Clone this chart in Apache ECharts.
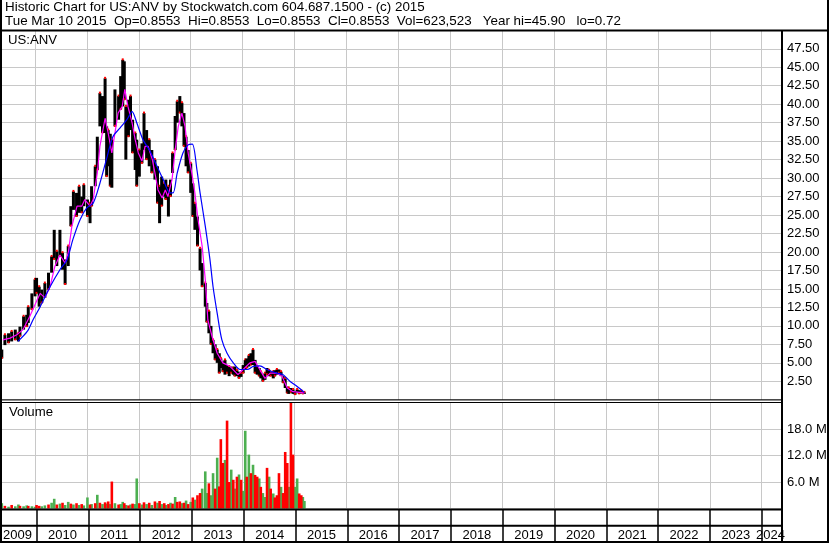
<!DOCTYPE html>
<html>
<head>
<meta charset="utf-8">
<script src="https://cdn.jsdelivr.net/npm/echarts@6/dist/echarts.min.js"></script>
<style>
  html, body { margin: 0; padding: 0; background: #fff; }
  #main { width: 830px; height: 543px; }
</style>
</head>
<body>
<div id="main"></div>
<script>
// x values are decimal years
const XMIN = 2009.364
const XMAX = 2024.391

// daily range bars (sampled), low / high in $
const barDates = [
  2009.36, 2009.42, 2009.49, 2009.55, 2009.62, 2009.68, 2009.71, 2009.78, 2009.84, 2009.87,
  2009.94, 2010.00, 2010.03, 2010.08, 2010.13, 2010.19, 2010.26, 2010.32, 2010.37, 2010.42,
  2010.48, 2010.53, 2010.58, 2010.64, 2010.69, 2010.74, 2010.80, 2010.85, 2010.90, 2010.94,
  2011.01, 2011.06, 2011.09, 2011.16, 2011.20, 2011.25, 2011.30, 2011.35, 2011.38, 2011.41,
  2011.45, 2011.48, 2011.54, 2011.61, 2011.65, 2011.69, 2011.72, 2011.75, 2011.80, 2011.84,
  2011.88, 2011.93, 2011.96, 2012.01, 2012.06, 2012.10, 2012.15, 2012.20, 2012.25, 2012.31,
  2012.36, 2012.40, 2012.44, 2012.49, 2012.52, 2012.57, 2012.61, 2012.65, 2012.70, 2012.74,
  2012.79, 2012.83, 2012.87, 2012.91, 2012.95, 2013.00, 2013.04, 2013.08, 2013.13, 2013.18,
  2013.22, 2013.28, 2013.31, 2013.35, 2013.39, 2013.43, 2013.47, 2013.51, 2013.55, 2013.58,
  2013.62, 2013.66, 2013.70, 2013.74, 2013.78, 2013.82, 2013.85, 2013.89, 2013.93, 2013.97,
  2014.01, 2014.05, 2014.08, 2014.12, 2014.16, 2014.20, 2014.24, 2014.28, 2014.32, 2014.35,
  2014.39, 2014.43, 2014.47, 2014.51, 2014.54, 2014.59, 2014.62, 2014.66, 2014.70, 2014.74,
  2014.78, 2014.82, 2014.86, 2014.89, 2014.93, 2014.97, 2015.01, 2015.05, 2015.09, 2015.13,
  2015.16, 2015.19
]
const barLow = [
  5.6, 7.4, 7.7, 7.9, 8.1, 7.9, 8.6, 9.5, 9.9, 10.4,
  12.2, 14.0, 14.4, 12.6, 13.1, 13.8, 14.9, 17.2, 19.0, 18.1,
  19.4, 17.6, 15.6, 18.1, 23.5, 25.7, 24.8, 25.3, 25.3, 26.2,
  24.8, 23.9, 26.2, 28.9, 31.1, 37.0, 36.1, 36.1, 30.2, 31.6,
  28.9, 28.7, 37.0, 37.9, 39.3, 39.7, 40.6, 32.5, 35.6, 36.5,
  33.4, 31.1, 28.9, 30.2, 32.0, 33.8, 32.5, 31.6, 30.7, 29.8,
  26.6, 23.9, 26.2, 27.5, 27.1, 24.8, 27.5, 30.7, 33.8, 37.5,
  38.8, 37.0, 34.3, 31.6, 30.7, 28.0, 24.8, 23.0, 20.8, 17.5,
  15.3, 12.6, 10.5, 9.0, 7.5, 6.3, 5.4, 5.0, 3.6, 4.3,
  3.8, 3.4, 3.6, 3.2, 3.6, 3.4, 3.2, 3.2, 2.9, 3.1,
  3.6, 4.1, 4.3, 4.5, 4.7, 4.7, 3.6, 3.4, 3.2, 2.9,
  2.5, 2.7, 3.4, 3.2, 3.2, 2.9, 3.2, 3.4, 3.6, 3.2,
  2.3, 1.6, 0.9, 0.8, 1.0, 0.8, 0.7, 1.0, 0.8, 0.9,
  0.8, 0.8
]
const barHigh = [
  6.8, 8.8, 9.0, 9.25, 9.5, 9.0, 9.9, 11.3, 11.5, 12.6,
  14.4, 16.3, 16.5, 15.3, 14.9, 15.8, 17.2, 19.4, 23.0, 20.1,
  23.0, 19.9, 19.0, 20.8, 26.2, 28.2, 28.0, 28.9, 27.5, 29.1,
  27.1, 26.6, 28.9, 31.6, 35.6, 41.5, 41.1, 43.5, 37.0, 36.5,
  36.0, 35.2, 42.0, 41.1, 43.8, 46.0, 45.8, 39.7, 40.6, 41.1,
  37.9, 36.1, 35.2, 33.8, 34.7, 38.8, 36.5, 35.2, 33.8, 32.5,
  31.6, 28.9, 30.2, 29.3, 29.8, 28.9, 29.8, 33.4, 38.4, 40.4,
  41.1, 40.2, 38.8, 35.6, 33.8, 32.0, 29.3, 26.6, 24.8, 20.5,
  18.5, 15.8, 13.1, 12.0, 10.0, 8.1, 7.5, 6.8, 6.3, 5.6,
  5.2, 5.4, 4.7, 4.5, 4.5, 4.3, 4.5, 4.0, 3.8, 3.6,
  4.7, 5.4, 5.6, 6.0, 6.3, 6.8, 5.4, 4.5, 4.3, 3.8,
  3.4, 3.6, 4.3, 4.0, 3.8, 3.8, 4.0, 4.1, 4.1, 3.8,
  3.2, 2.9, 1.8, 1.6, 1.6, 1.4, 1.2, 1.4, 1.3, 1.2,
  1.0, 1.0
]

// volume in millions, same dates as the bars; 1 = up day (green), 0 = down day (red)
const volume = [
  1.2, 0.6, 0.4, 0.8, 0.5, 0.9, 0.6, 0.5, 0.7, 0.6,
  0.5, 0.4, 0.8, 0.6, 0.5, 0.7, 0.9, 1.3, 2.2, 0.9,
  1.1, 1.3, 0.8, 1.5, 1.1, 0.9, 1.2, 0.8, 1.0, 0.7,
  2.5, 0.9, 1.0, 1.2, 3.1, 1.3, 1.0, 1.4, 1.1, 1.6,
  1.0, 6.1, 1.2, 0.9, 1.0, 1.5, 1.2, 0.8, 0.7, 0.9,
  1.1, 1.0, 6.8, 1.2, 0.9, 1.4, 1.0, 1.3, 0.8, 1.6,
  1.3, 1.7, 1.0, 1.2, 0.8, 1.0, 1.3, 1.1, 2.6, 1.5,
  1.6, 1.2, 1.3, 1.8, 1.0, 1.5, 2.5, 2.0, 3.0, 3.5,
  4.5, 8.4, 3.5, 5.7, 3.0, 8.0, 4.5, 11.5, 5.0, 15.7,
  10.3, 11.0, 19.9, 6.0, 8.8, 6.5, 4.5, 7.2, 7.7, 6.5,
  4.0, 17.6, 7.2, 12.2, 8.0, 9.9, 7.6, 7.2, 6.8, 4.9,
  3.5, 2.6, 9.2, 7.2, 4.5, 3.4, 2.5, 3.0, 8.0, 4.9,
  3.5, 12.8, 10.3, 4.9, 24.0, 12.2, 4.9, 6.8, 3.4, 3.0,
  2.6, 1.7
]
const volUp = [
  1, 0, 1, 0, 1, 1, 0, 1, 1, 0,
  1, 1, 0, 0, 1, 1, 0, 1, 1, 0,
  1, 0, 1, 1, 0, 1, 0, 1, 0, 1,
  1, 0, 1, 0, 1, 0, 1, 0, 1, 0,
  1, 0, 1, 0, 1, 1, 0, 1, 0, 1,
  0, 1, 1, 0, 1, 0, 1, 0, 1, 0,
  1, 0, 1, 0, 1, 0, 1, 0, 1, 0,
  0, 1, 0, 1, 0, 1, 0, 1, 0, 0,
  1, 1, 1, 0, 1, 1, 0, 1, 0, 0,
  0, 1, 0, 0, 1, 0, 1, 0, 1, 0,
  1, 1, 0, 1, 0, 1, 0, 0, 1, 0,
  1, 1, 0, 1, 0, 1, 0, 0, 0, 1,
  0, 0, 0, 1, 0, 0, 1, 1, 0, 0,
  1, 1
]

// short moving average (magenta)
const maShortDates = [
  2009.38, 2009.52, 2009.65, 2009.77, 2009.90, 2010.04, 2010.10, 2010.19, 2010.29, 2010.38,
  2010.48, 2010.58, 2010.64, 2010.71, 2010.81, 2010.90, 2010.96, 2011.06, 2011.12, 2011.20,
  2011.25, 2011.35, 2011.41, 2011.48, 2011.54, 2011.60, 2011.68, 2011.73, 2011.79, 2011.87,
  2011.93, 2011.99, 2012.06, 2012.12, 2012.18, 2012.26, 2012.31, 2012.37, 2012.45, 2012.51,
  2012.56, 2012.64, 2012.70, 2012.76, 2012.83, 2012.89, 2012.95, 2013.02, 2013.08, 2013.14,
  2013.22, 2013.28, 2013.33, 2013.41, 2013.51, 2013.62, 2013.76, 2013.91, 2014.01, 2014.14,
  2014.24, 2014.33, 2014.43, 2014.53, 2014.66, 2014.76, 2014.86, 2014.97, 2015.10, 2015.19
]
const maShort = [
  8.1, 8.35, 8.8, 9.5, 11.3, 13.5, 14.4, 13.8, 15.3, 18.0,
  19.6, 18.5, 19.9, 23.5, 26.2, 26.2, 27.1, 26.2, 27.1, 30.7,
  34.3, 38.1, 36.1, 33.4, 36.1, 38.8, 39.7, 42.0, 39.7, 37.5,
  35.2, 33.4, 32.3, 34.3, 34.3, 32.5, 30.7, 28.4, 27.3, 28.4,
  27.5, 29.8, 33.8, 37.0, 38.8, 37.0, 33.4, 30.7, 28.0, 24.4,
  20.8, 16.3, 10.8, 8.6, 6.3, 5.0, 4.5, 3.4, 4.1, 5.0,
  5.2, 4.1, 2.9, 3.6, 3.6, 3.2, 1.6, 1.1, 1.0, 0.9
]

// long moving average (blue)
const maLongDates = [
  2009.67, 2009.85, 2009.96, 2010.10, 2010.29, 2010.48, 2010.62, 2010.73, 2010.87, 2011.00,
  2011.12, 2011.25, 2011.39, 2011.50, 2011.64, 2011.77, 2011.87, 2011.96, 2012.08, 2012.22,
  2012.35, 2012.47, 2012.60, 2012.66, 2012.74, 2012.85, 2012.95, 2013.03, 2013.12, 2013.18,
  2013.28, 2013.37, 2013.43, 2013.51, 2013.60, 2013.70, 2013.82, 2013.95, 2014.09, 2014.20,
  2014.33, 2014.47, 2014.66, 2014.78, 2014.91, 2015.05, 2015.19
]
const maLong = [
  7.9, 9.25, 10.8, 12.6, 15.3, 17.6, 19.0, 21.7, 24.4, 26.0,
  26.6, 29.3, 32.9, 35.6, 36.8, 37.9, 39.0, 37.5, 35.2, 33.6,
  31.6, 29.8, 28.0, 28.0, 30.7, 33.4, 34.5, 34.6, 31.1, 28.0,
  23.5, 19.0, 15.3, 11.7, 8.1, 6.3, 5.0, 4.1, 4.1, 4.5,
  4.6, 4.1, 3.6, 3.4, 2.5, 1.8, 1.0
]

// axis ticks / labels
const yearLines = [2010, 2011, 2012, 2013, 2014, 2015, 2016, 2017, 2018, 2019, 2020, 2021, 2022, 2023, 2024]
const yearLabelPos = [2009.63, 2010.5, 2011.5, 2012.5, 2013.5, 2014.5, 2015.5, 2016.5, 2017.5, 2018.5,
  2019.5, 2020.5, 2021.5, 2022.5, 2023.5, 2024.17]

const FONT = "'Liberation Sans', Arial, sans-serif"
const GRID_GRAY = '#c8c8c8'

const priceBars = barDates.map((d, i) => [d, barLow[i], barHigh[i]])
const volGreen = barDates.map((d, i) => [d, volUp[i] ? volume[i] : null])
const volRed = barDates.map((d, i) => [d, volUp[i] ? null : volume[i]])
const shortLine = maShortDates.map((d, i) => [d, maShort[i]])
const longLine = maLongDates.map((d, i) => [d, maLong[i]])

const chart = echarts.init(document.getElementById('main'), null, { renderer: 'canvas' })

const xCommon = {
  type: 'value',
  min: XMIN,
  max: XMAX,
  axisLine: { show: false },
  axisLabel: { show: false },
  axisTick: { show: false, customValues: yearLines },
  splitLine: { show: true, lineStyle: { color: GRID_GRAY, width: 1 } }
}

function frameLine (x1, y1, x2, y2, w) {
  return {
    type: 'line',
    silent: true,
    z: 100,
    shape: { x1: x1, y1: y1, x2: x2, y2: y2 },
    style: { stroke: '#000', lineWidth: w }
  }
}

chart.setOption({
  animation: false,
  backgroundColor: '#fff',
  textStyle: { fontFamily: FONT },
  title: [
    {
      text: 'Historic Chart for US:ANV by Stockwatch.com 604.687.1500 - (c) 2015',
      left: 0, top: -4,
      textStyle: { fontSize: 13.4, fontWeight: 'normal', color: '#000', fontFamily: FONT }
    },
    {
      text: 'Tue Mar 10 2015  Op=0.8553  Hi=0.8553  Lo=0.8553  Cl=0.8553  Vol=623,523   Year hi=45.90   lo=0.72',
      left: 0, top: 10,
      textStyle: { fontSize: 13.4, fontWeight: 'normal', color: '#000', fontFamily: FONT }
    },
    {
      text: 'US:ANV',
      left: 3, top: 29,
      textStyle: { fontSize: 13.2, fontWeight: 'normal', color: '#000', fontFamily: FONT }
    },
    {
      text: 'Volume',
      left: 4, top: 401,
      textStyle: { fontSize: 13.2, fontWeight: 'normal', color: '#000', fontFamily: FONT }
    }
  ],
  grid: [
    { left: 2, top: 30.3, width: 780, height: 369.5 },
    { left: 2, top: 402.5, width: 780, height: 106 },
    { left: 2, top: 509.5, width: 780, height: 16.3 }
  ],
  xAxis: [
    Object.assign({ gridIndex: 0 }, xCommon),
    Object.assign({ gridIndex: 1 }, xCommon),
    {
      gridIndex: 2,
      type: 'value',
      min: XMIN,
      max: XMAX,
      position: 'bottom',
      axisLine: { show: false },
      axisTick: { show: true, customValues: yearLines, length: 16, lineStyle: { color: '#000', width: 1.5 } },
      splitLine: { show: true, lineStyle: { color: '#000', width: 1.5 } },
      axisLabel: {
        show: true,
        customValues: yearLabelPos,
        margin: 3,
        color: '#000',
        fontSize: 13,
        fontFamily: FONT,
        formatter: v => String(Math.floor(v))
      }
    }
  ],
  yAxis: [
    {
      gridIndex: 0,
      type: 'value',
      position: 'right',
      min: 0,
      max: 50,
      interval: 2.5,
      axisLine: { show: false },
      axisTick: { show: false },
      splitLine: { show: true, lineStyle: { color: GRID_GRAY, width: 1 } },
      axisLabel: {
        show: true,
        margin: 5,
        align: 'left',
        color: '#000',
        fontSize: 13,
        fontFamily: FONT,
        formatter: v => (v <= 0 || v >= 50) ? '' : v.toFixed(2)
      }
    },
    {
      gridIndex: 1,
      type: 'value',
      position: 'right',
      min: 0,
      max: 24,
      interval: 6,
      axisLine: { show: false },
      axisTick: { show: false },
      splitLine: { show: true, lineStyle: { color: GRID_GRAY, width: 1 } },
      axisLabel: {
        show: true,
        margin: 5,
        align: 'left',
        color: '#000',
        fontSize: 13,
        fontFamily: FONT,
        formatter: v => (v <= 0 || v >= 24) ? '' : v.toFixed(1) + ' M'
      }
    },
    {
      gridIndex: 2,
      type: 'value',
      min: 0,
      max: 1,
      show: false
    }
  ],
  series: [
    {
      name: 'price',
      type: 'custom',
      xAxisIndex: 0,
      yAxisIndex: 0,
      data: priceBars,
      encode: { x: 0, y: [1, 2] },
      renderItem (params, api) {
        const x = api.value(0)
        const lo = api.coord([x, api.value(1)])
        const hi = api.coord([x, api.value(2)])
        const tip = params.dataIndex % 2 ? hi : lo
        return {
          type: 'group',
          children: [
            {
              type: 'line',
              shape: { x1: lo[0], y1: lo[1], x2: hi[0], y2: hi[1] },
              style: { stroke: '#000', lineWidth: 3 }
            },
            {
              type: 'rect',
              shape: { x: tip[0] - 1, y: tip[1] - 1.5, width: 2, height: 2 },
              style: { fill: '#ff0000' }
            }
          ]
        }
      }
    },
    {
      name: 'short',
      type: 'line',
      xAxisIndex: 0,
      yAxisIndex: 0,
      data: shortLine,
      symbol: 'none',
      lineStyle: { color: '#ff00ff', width: 1.2 }
    },
    {
      name: 'long',
      type: 'line',
      xAxisIndex: 0,
      yAxisIndex: 0,
      data: longLine,
      symbol: 'none',
      smooth: 0.3,
      lineStyle: { color: '#0000ff', width: 1.2 }
    },
    {
      name: 'up',
      type: 'bar',
      xAxisIndex: 1,
      yAxisIndex: 1,
      stack: 'vol',
      barWidth: 2.6,
      data: volGreen,
      itemStyle: { color: '#4caf50' }
    },
    {
      name: 'down',
      type: 'bar',
      xAxisIndex: 1,
      yAxisIndex: 1,
      stack: 'vol',
      barWidth: 2.6,
      data: volRed,
      itemStyle: { color: '#ff0000' }
    }
  ],
  graphic: [
    frameLine(1, 0, 1, 543, 2),
    frameLine(828, 0, 828, 543, 2),
    frameLine(0, 30.5, 829, 30.5, 2),
    frameLine(782, 30, 782, 543, 2),
    frameLine(0, 399.8, 782, 399.8, 1),
    frameLine(0, 402.5, 782, 402.5, 1),
    frameLine(0, 509.5, 782, 509.5, 2),
    frameLine(0, 525.8, 782, 525.8, 2),
    frameLine(0, 542, 829, 542, 2)
  ]
})
</script>
</body>
</html>
